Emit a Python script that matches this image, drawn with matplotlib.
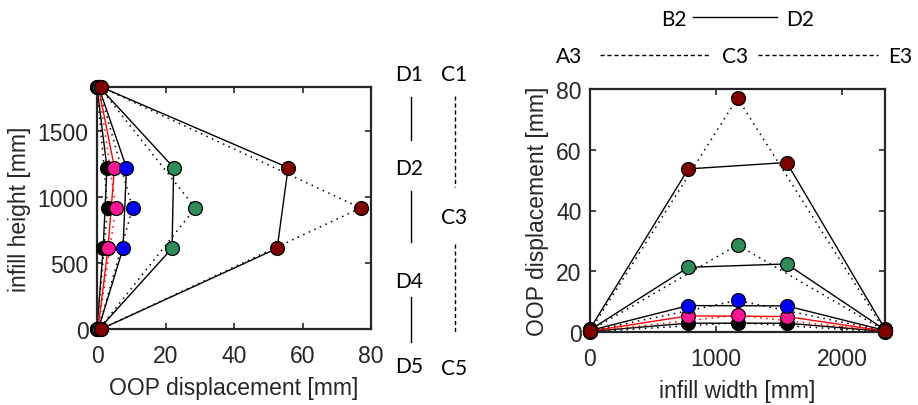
import numpy as np
import matplotlib.pyplot as plt
from matplotlib.lines import Line2D

# node positions of the infill panel
d_heights = [1830, 1220, 610, 0]      # D1, D2, D4, D5
c_heights = [1830, 915, 0]            # C1, C3, C5
row2_x = [0, 780, 1560, 2340]         # A2, B2, D2, E2
row3_x = [0, 1170, 2340]              # A3, C3, E3

# OOP displacements [mm], one row per load stage
d_col = [
    [0.0, 2.9, 1.8, 0.0],
    [0.4, 5.1, 3.2, 0.3],
    [0.5, 8.6, 7.6, 0.4],
    [0.7, 22.4, 21.9, 0.6],
    [1.2, 55.8, 52.6, 1.2],
]
c_col = [
    [0.0, 3.1, 0.0],
    [0.4, 5.5, 0.3],
    [0.5, 10.4, 0.4],
    [0.7, 28.7, 0.6],
    [1.2, 77.0, 1.2],
]
row2 = [
    [0.2, 2.9, 2.9, 0.2],
    [0.3, 5.3, 5.1, 0.3],
    [0.5, 8.7, 8.6, 0.5],
    [0.7, 21.3, 22.4, 0.7],
    [1.0, 53.7, 55.8, 1.0],
]
row3 = [
    [0.0, 3.1, 0.0],
    [0.2, 5.5, 0.2],
    [0.3, 10.4, 0.3],
    [0.4, 28.7, 0.4],
    [0.3, 77.0, 0.3],
]

face_colors = ['black', '#ff1493', '#0000ff', '#2e8b57', '#800000']
line_colors = ['black', 'red', 'black', 'black', 'black']

axis_color = '#262626'
plt.rcParams['font.family'] = ['Liberation Sans', 'DejaVu Sans']
plt.rcParams['font.size'] = 16.5

fig = plt.figure(figsize=(9.18, 4.06), dpi=100)
W, H = 918, 406


def px_axes(x0, y0, x1, y1):
    return fig.add_axes([x0 / W, 1 - y1 / H, (x1 - x0) / W, (y1 - y0) / H])


def style(ax):
    for s in ax.spines.values():
        s.set_color(axis_color)
        s.set_linewidth(1.6)
    ax.tick_params(direction='in', top=True, right=True, length=4, width=1.2,
                   colors=axis_color, labelcolor=axis_color, labelsize=16.5)
    ax.tick_params(axis='x', pad=11)
    ax.tick_params(axis='y', pad=6)


mk = dict(marker='o', markersize=10, markeredgecolor='black', markeredgewidth=0.9,
          linestyle='none', clip_on=False, zorder=5)
dot = (0, (1, 3))

# left: vertical profiles along columns D and C
ax1 = px_axes(97, 88, 371, 330)
for i in range(len(face_colors)):
    ax1.plot(d_col[i], d_heights, color=line_colors[i], lw=1.0, zorder=2)
    ax1.plot(c_col[i], c_heights, color=line_colors[i], lw=1.1, ls=dot, zorder=2)
for i in range(len(face_colors)):
    ax1.plot(d_col[i], d_heights, markerfacecolor=face_colors[i], **mk)
    ax1.plot(c_col[i], c_heights, markerfacecolor=face_colors[i], **mk)
ax1.set_xlim(0, 80)
ax1.set_ylim(0, 1830)
ax1.set_xticks([0, 20, 40, 60, 80])
ax1.set_yticks([0, 500, 1000, 1500])
ax1.set_xlabel('OOP displacement [mm]', color=axis_color, labelpad=6)
ax1.set_ylabel('infill height [mm]', color=axis_color, labelpad=5)
style(ax1)

# right: horizontal profiles along rows 2 and 3
ax2 = px_axes(590, 90, 885, 333)
for i in range(len(face_colors)):
    ax2.plot(row2_x, row2[i], color=line_colors[i], lw=1.0, zorder=2)
    ax2.plot(row3_x, row3[i], color=line_colors[i], lw=1.1, ls=dot, zorder=2)
for i in range(len(face_colors)):
    ax2.plot(row2_x, row2[i], markerfacecolor=face_colors[i], **mk)
    ax2.plot(row3_x, row3[i], markerfacecolor=face_colors[i], **mk)
ax2.set_xlim(0, 2340)
ax2.set_ylim(0, 80)
ax2.set_xticks([0, 1000, 2000])
ax2.set_yticks([0, 20, 40, 60, 80])
ax2.set_xlabel('infill width [mm]', color=axis_color, labelpad=6)
ax2.set_ylabel('OOP displacement [mm]', color=axis_color, labelpad=5)
style(ax2)

# node keys drawn in figure pixels
key_font = dict(family=['Lato', 'DejaVu Sans'], fontsize=15, color='black',
                ha='center', va='center')


def ftext(x, y, s, **kw):
    opts = dict(key_font)
    opts.update(kw)
    fig.text(x / W, 1 - y / H, s, **opts)


def fline(x0, y0, x1, y1, ls='-'):
    fig.add_artist(Line2D([x0 / W, x1 / W], [1 - y0 / H, 1 - y1 / H],
                          color='black', lw=1.0, ls=ls))


dash = (0, (3, 2))
for s, y in [('D1', 75), ('D2', 169), ('D4', 282), ('D5', 367)]:
    ftext(409, y, s)
for s, y in [('C1', 75), ('C3', 218), ('C5', 369)]:
    ftext(454, y, s)
fline(411, 98, 411, 141)
fline(411, 192, 411, 243)
fline(411, 298, 411, 343)
fline(455, 97, 455, 188, ls=dash)
fline(455, 245, 455, 334, ls=dash)

ftext(674, 20, 'B2')
ftext(800, 20, 'D2')
fline(693, 18, 777, 18)
ftext(569, 57, 'A3')
ftext(735, 57, 'C3')
ftext(888, 57, 'E3', ha='left')
fline(600, 56, 710, 56, ls=dash)
fline(758, 56, 878, 56, ls=dash)

plt.savefig('out.png', dpi=100)
